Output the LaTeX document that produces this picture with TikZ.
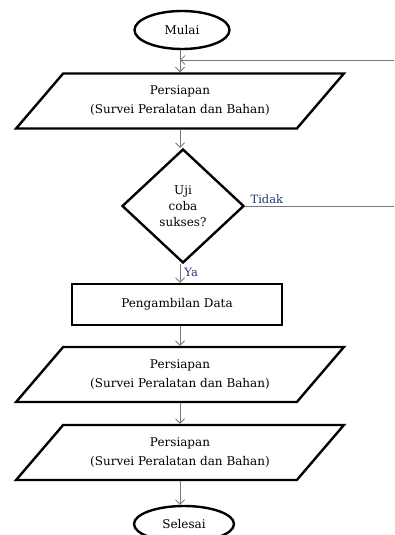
\documentclass[tikz,border=0pt]{standalone}
\usepackage{fontspec}
\setmainfont{DejaVu Serif}
\usetikzlibrary{shapes.geometric,arrows.meta}

\definecolor{labelblue}{RGB}{31,56,120}
\definecolor{linegray}{RGB}{120,120,120}

\begin{document}
\begin{tikzpicture}[x=1pt,y=-1pt,
  txt/.style={font=\fontsize{12}{19}\selectfont, text=black, align=center},
  terminal/.style={txt, ellipse, draw, line width=2.4pt, minimum width=95pt, minimum height=38pt, inner sep=0pt},
  inout/.style={txt, trapezium, trapezium left angle=39.4, trapezium right angle=140.6,
    trapezium stretches=true, draw, line width=2.4pt, minimum width=328pt, minimum height=55pt, inner sep=0pt},
  decision/.style={txt, font=\fontsize{12}{16}\selectfont, diamond, draw, line width=2.4pt,
    minimum width=122pt, minimum height=114pt, inner sep=0pt},
  process/.style={txt, rectangle, draw, line width=2.4pt, minimum width=210pt, minimum height=41pt},
  arr/.style={draw=linegray, line width=0.8pt, -{Straight Barb[length=4.5pt,width=9pt]}},
  lbl/.style={font=\fontsize{11.5}{13}\selectfont, text=labelblue, inner sep=2pt}]

  % --- Frame ---
  \useasboundingbox (0,0) rectangle (394,535);
  \clip (0,0) rectangle (394,535);

  % --- Parameters ---
  \def\cx{180}   % x of the main flow line

  % --- Nodes ---
  \node[terminal] (mulai) at (182,30) {Mulai};
  \node[inout] (siap1) at (\cx,101) {Persiapan\\(Survei Peralatan dan Bahan)};
  \node[decision] (uji) at (183,206) {Uji\\coba\\sukses?};
  \node[process] (ambil) at (177,304.5) {Pengambilan Data};
  \node[inout] (siap2) at (\cx,374.5) {Persiapan\\(Survei Peralatan dan Bahan)};
  \node[inout] (siap3) at (\cx,452.5) {Persiapan\\(Survei Peralatan dan Bahan)};
  \node[terminal, minimum width=100pt, minimum height=36pt] (selesai) at (184,524) {Selesai};

  % --- Helper points for the loop back ---
  \coordinate (masuk) at (\cx,60);
  \coordinate (luar) at (410,0);

  % --- Flow ---
  \draw[arr] (siap1.north |- mulai.south) -- (siap1.north);
  \draw[arr] (siap1.south) -- (siap1.south |- uji.north);
  \draw[arr] (uji.south -| siap1.south) -- node[lbl, right, pos=0.45, xshift=2pt] {Ya} (siap1.south |- ambil.north);
  \draw[arr] (siap2.north |- ambil.south) -- (siap2.north);
  \draw[arr] (siap2.south) -- (siap3.north);
  \draw[arr] (siap3.south) -- (siap3.south |- selesai.north);

  % --- Loop back when the test fails ---
  \draw[arr] (uji.east) -- node[lbl, above right, pos=0, xshift=3pt] {Tidak} (uji.east -| luar) |- (masuk);
\end{tikzpicture}
\end{document}
